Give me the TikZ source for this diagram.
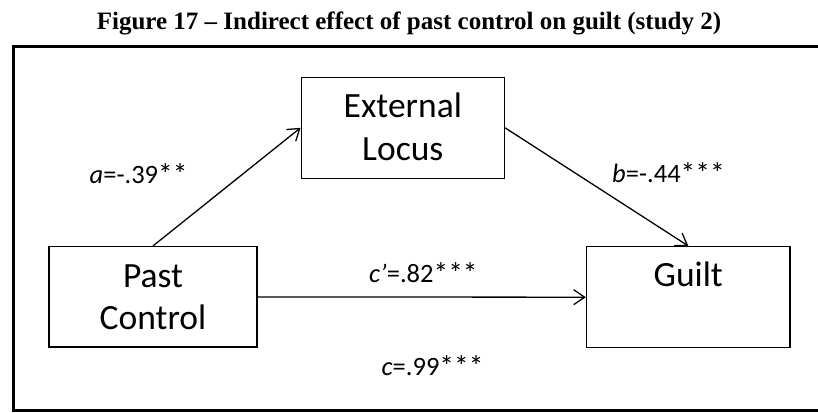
\documentclass[tikz,border=0pt]{standalone}
\usepackage{fontspec}
\setmainfont{Liberation Serif}
\newfontfamily\carlito{Carlito}
\usetikzlibrary{arrows.meta,calc}
% significance stars, set a little larger than the digits around them
\newcommand{\sigstars}[1]{\raisebox{-1.2pt}{\fontsize{29.5}{30}\selectfont #1}}
\begin{document}
\begin{tikzpicture}[x=1pt,y=-1pt,
  box/.style={draw, line width=1.5pt, rectangle, inner sep=0pt},
  boxtext/.style={font=\carlito\fontsize{35.5}{42.7}\selectfont, anchor=base, inner sep=0pt},
  coef/.style={font=\carlito\fontsize{26.5}{30}\selectfont, anchor=base west, inner sep=0pt},
  link/.style={line width=1.3pt, -{Straight Barb[length=11pt,width=15pt,line width=1.3pt]}},
  frame/.style={line width=3pt}]
\useasboundingbox (0,0) rectangle (818,412);

% caption
\node[font=\bfseries\fontsize{25}{30}\selectfont, anchor=base, inner sep=0pt] (title) at (409,29.5)
  {Figure 17 – Indirect effect of past control on guilt (study 2)};

% surrounding frame (open on the right, running past the page edge)
\draw[frame] (822,46.5) -- (13.8,46.5) -- (13.8,410.5) -- (822,410.5);

% variable boxes
\node[box, minimum width=208pt, minimum height=100.5pt] (pc) at (153,296.9) {};
\node[box, minimum width=203.5pt, minimum height=101pt] (gu) at (688.3,297.2) {};
\node[box, minimum width=203pt, minimum height=101pt] (el) at (402.8,127.8) {};

% box labels
\node[boxtext] (elA) at ($(el.north)+(0,41)$) {External};
\node[boxtext] (elB) at ($(el.north)+(0,83.7)$) {Locus};
\node[boxtext] (pcA) at ($(pc.north)+(0,41.3)$) {Past};
\node[boxtext] (pcB) at ($(pc.north)+(0,84)$) {Control};
\node[boxtext] (guA) at ($(gu.north)+(0,40.7)$) {Guilt};

% paths
\draw[link] (pc.north) -- (el.west);
\draw[link] (el.east) -- (gu.north);
\draw[link] (pc.east) -- (gu.west);

% path coefficients
\node[coef] (ca) at (89.5,183.3) {{\itshape a}=-.39\sigstars{**}};
\node[coef] (cb) at (612,182.5) {{\itshape b}=-.44\sigstars{***}};
\node[coef] (ccp) at (369,282) {{\itshape c’}=.82\sigstars{***}};
\node[coef] (cc) at (381.5,375) {{\itshape c}=.99\sigstars{***}};
\end{tikzpicture}
\end{document}
